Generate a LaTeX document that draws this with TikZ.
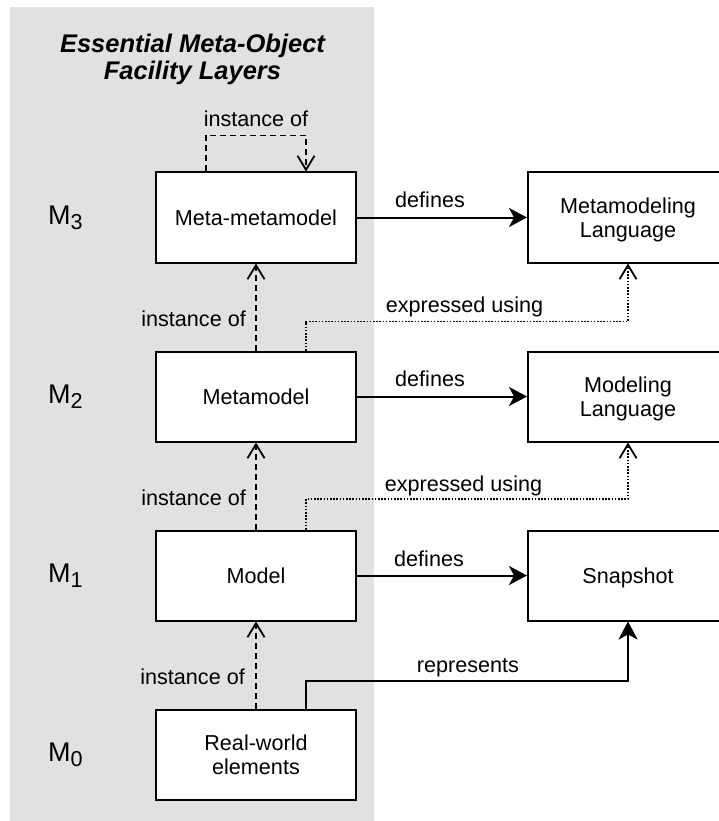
\documentclass[tikz,border=0pt]{standalone}
\usepackage{fontspec}
\setmainfont{Liberation Sans}
\usetikzlibrary{arrows.meta}
\definecolor{layerbg}{RGB}{225,225,225}

\begin{document}
\begin{tikzpicture}[x=1pt,y=-1pt,
  layerbox/.style={draw=black, line width=2pt, fill=white,
    minimum width=200pt, minimum height=90pt, inner sep=0pt,
    align=center, text depth=0pt, font=\fontsize{21.6}{24.5}\selectfont},
  lbl/.style={inner sep=0pt, font=\fontsize{21.6}{24.5}\selectfont},
  lvl/.style={inner sep=0pt, anchor=base west, font=\fontsize{27}{30}\selectfont},
  title/.style={inner sep=0pt, align=center,
    font=\fontsize{25.5}{26.6}\selectfont\bfseries\itshape},
  inst/.style={line width=1.8pt, dash pattern=on 6pt off 4pt,
    -{Straight Barb[length=14pt,width=17pt,line width=1.8pt]}},
  expr/.style={line width=1.6pt, dash pattern=on 1.6pt off 1.6pt,
    -{Straight Barb[length=14pt,width=17pt,line width=1.8pt]}},
  defn/.style={line width=2pt, -{Stealth[length=18pt,width=19pt,inset=5pt]}},
]
\useasboundingbox (0,0) rectangle (719,821);
\clip (0,0) rectangle (719,821);

% layer band
\fill[layerbg] (10,7) rectangle (374,830);
\node[title] (ttl) at (192.5,59.4) {Essential Meta-Object\\Facility Layers};

% level markers
\node[lvl] (m3) at (48,224.3) {M\raisebox{-5.5pt}{\fontsize{21.6}{24}\selectfont 3}};
\node[lvl] (m2) at (48,403.3) {M\raisebox{-5.5pt}{\fontsize{21.6}{24}\selectfont 2}};
\node[lvl] (m1) at (48,582.3) {M\raisebox{-5.5pt}{\fontsize{21.6}{24}\selectfont 1}};
\node[lvl] (m0) at (48,761.3) {M\raisebox{-5.5pt}{\fontsize{21.6}{24}\selectfont 0}};

% left column
\node[layerbox] (mmm) at (256,217.5) {Meta-metamodel};
\node[layerbox] (mm)  at (256,396.5) {Metamodel};
\node[layerbox] (mod) at (256,575.5) {Model};
\node[layerbox] (rw)  at (256,754.5) {Real-world\\elements};

% right column
\node[layerbox] (mml)  at (628,217.5) {Metamodeling\\Language};
\node[layerbox] (ml)   at (628,396.5) {Modeling\\Language};
\node[layerbox] (snap) at (628,575.5) {Snapshot};

% instance-of relations
\draw[inst] ([xshift=-50pt]mmm.north) -- ++(0,-36) -| ([xshift=50pt]mmm.north);
\node[lbl, anchor=base] (li0) at (256,127) {instance of};
\draw[inst] (mm.north) -- (mmm.south);
\node[lbl, anchor=base east] (li1) at (246,326) {instance of};
\draw[inst] (mod.north) -- (mm.south);
\node[lbl, anchor=base east] (li2) at (246,505) {instance of};
\draw[inst] (rw.north) -- (mod.south);
\node[lbl, anchor=base east] (li3) at (245,684) {instance of};

% defines
\draw[defn] (mmm.east) -- (mml.west);
\node[lbl, anchor=base] (ld1) at (430,207.5) {defines};
\draw[defn] (mm.east) -- (ml.west);
\node[lbl, anchor=base] (ld2) at (430,386.5) {defines};
\draw[defn] (mod.east) -- (snap.west);
\node[lbl, anchor=base] (ld3) at (429,566) {defines};

% expressed using
\draw[expr] ([xshift=50pt]mm.north) -- ++(0,-29) -| (mml.south);
\node[lbl, anchor=base] (le1) at (464.5,312) {expressed using};
\draw[expr] ([xshift=50pt]mod.north) -- ++(0,-30.5) -| (ml.south);
\node[lbl, anchor=base] (le2) at (463.5,491) {expressed using};

% represents
\draw[defn] ([xshift=50pt]rw.north) -- ++(0,-28) -| (snap.south);
\node[lbl, anchor=base] (lr) at (468,672) {represents};
\end{tikzpicture}
\end{document}
